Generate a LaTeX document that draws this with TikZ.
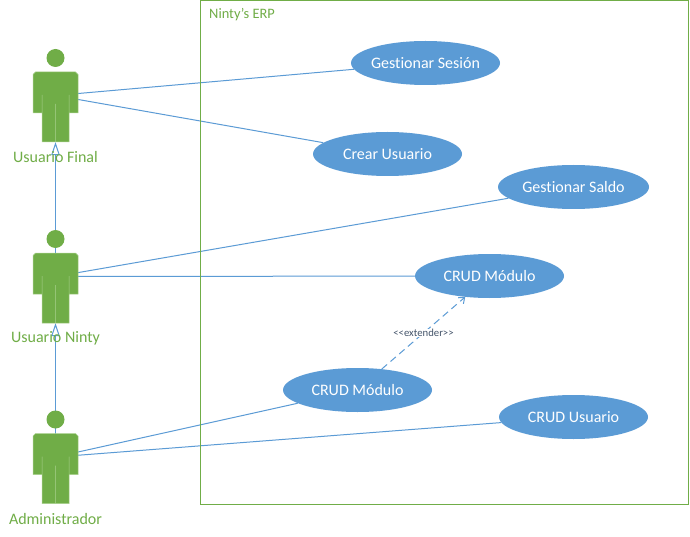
\documentclass[tikz,border=0pt]{standalone}
\usepackage{fontspec}
\setmainfont[RawFeature={-liga;-clig}]{Carlito}
\usetikzlibrary{shapes.geometric,arrows.meta,backgrounds}
\definecolor{ublue}{HTML}{5B9BD5}
\definecolor{ugreen}{HTML}{70AD47}
\definecolor{uedge}{HTML}{A9D18E}
\definecolor{ugrey}{HTML}{44546A}
\tikzset{
  x=1pt,y=-1pt,
  usecase/.style={ellipse,fill=ublue,draw=none,minimum width=149pt,minimum height=44pt,inner xsep=-30pt,inner ysep=0pt,text=white,font=\fontsize{16}{18}\selectfont},
  actorbox/.style={rectangle,minimum width=45pt,minimum height=93pt,inner sep=0pt,draw=none},
  actorname/.style={text=ugreen,font=\fontsize{16}{18}\selectfont,inner sep=0pt},
  assoc/.style={draw=ublue,line width=1pt},
  gener/.style={draw=ublue,line width=1pt,-{Triangle[open,length=13pt,width=8.5pt,fill=white]}},
  extendline/.style={draw=ublue,line width=1pt,dash pattern=on 7pt off 4.5pt,-{Straight Barb[length=5pt,width=8pt]}},
  extendlabel/.style={text=ugrey,fill=white,inner sep=0.5pt,font=\fontsize{10.7}{12}\selectfont},
  frametitle/.style={text=ugreen,font=\fontsize{14.4}{16}\selectfont,inner sep=0pt,anchor=west},
  actor/.pic={
    \fill[ugreen] (0,-37.5) circle (9);
    \path[fill=ugreen,draw=uedge,line width=0.5pt,line join=miter]
      (-20,-23.5)--(20,-23.5)--(22.5,-21)--(22.5,17.5)--(13.5,17.5)--(13.5,-0.5)--(13.5,17.5)--(13.5,46.5)--(0,46.5)--(0,8.5)--(0,46.5)--(-13.5,46.5)--(-13.5,17.5)--(-13.5,-0.5)--(-13.5,17.5)--(-22.5,17.5)--(-22.5,-21)--cycle;
  }
}
\begin{document}
\begin{tikzpicture}
\useasboundingbox (0,0) rectangle (690,537);
\begin{scope}[on background layer]
  \fill[white] (0,0) rectangle (690,537);
\end{scope}
% system frame
\node[rectangle,draw=ugreen,line width=1pt,minimum width=488.5pt,minimum height=503pt,inner sep=0pt] (sys) at (444.5,252.5) {};
\node[frametitle] (systitle) at (209,15) {Ninty’s ERP};
% use cases
\node[usecase] (u1) at (425.5,63) {\raisebox{-0.7pt}{Gestionar Sesión}};
\node[usecase] (u2) at (387.5,154) {\raisebox{-0.7pt}{Crear Usuario}};
\node[usecase,minimum width=151pt] (u3) at (573.5,187) {\raisebox{-0.7pt}{Gestionar Saldo}};
\node[usecase] (u4) at (489.5,276) {\raisebox{-0.7pt}{CRUD Módulo}};
\node[usecase] (u5) at (357.5,390) {\raisebox{-0.7pt}{CRUD Módulo}};
\node[usecase] (u6) at (573.5,417) {\raisebox{-0.7pt}{CRUD Usuario}};
% actors
\node[actorbox] (a1) at (55.5,95.5) {};
\node[actorbox] (a2) at (55.5,276.5) {};
\node[actorbox] (a3) at (55.5,457) {};
\pic at (a1.center) {actor};
\pic at (a2.center) {actor};
\pic at (a3.center) {actor};
% connectors, behind the actors
\begin{scope}[on background layer]
  \draw[assoc] (a1.center) -- (u1);
  \draw[assoc] (a1.center) -- (u2);
  \draw[assoc] (a2.center) -- (u3);
  \draw[assoc] (a2.center) -- (u4);
  \draw[assoc] (a3.center) -- (u5);
  \draw[assoc] (a3.center) -- (u6);
  \draw[gener] (a2.center) -- (a1.south);
  \draw[gener] (a3.center) -- (a2.south);
\end{scope}
\draw[extendline] (u5) -- node[extendlabel,pos=0.5] (extlabel) {{<}{<}extender{>}{>}} (u4);
% actor names
\node[actorname] (n1) at (55.5,157) {Usuario Final};
\node[actorname] (n2) at (55.5,338) {Usuario Ninty};
\node[actorname] (n3) at (55.5,518.5) {Administrador};
\end{tikzpicture}
\end{document}
